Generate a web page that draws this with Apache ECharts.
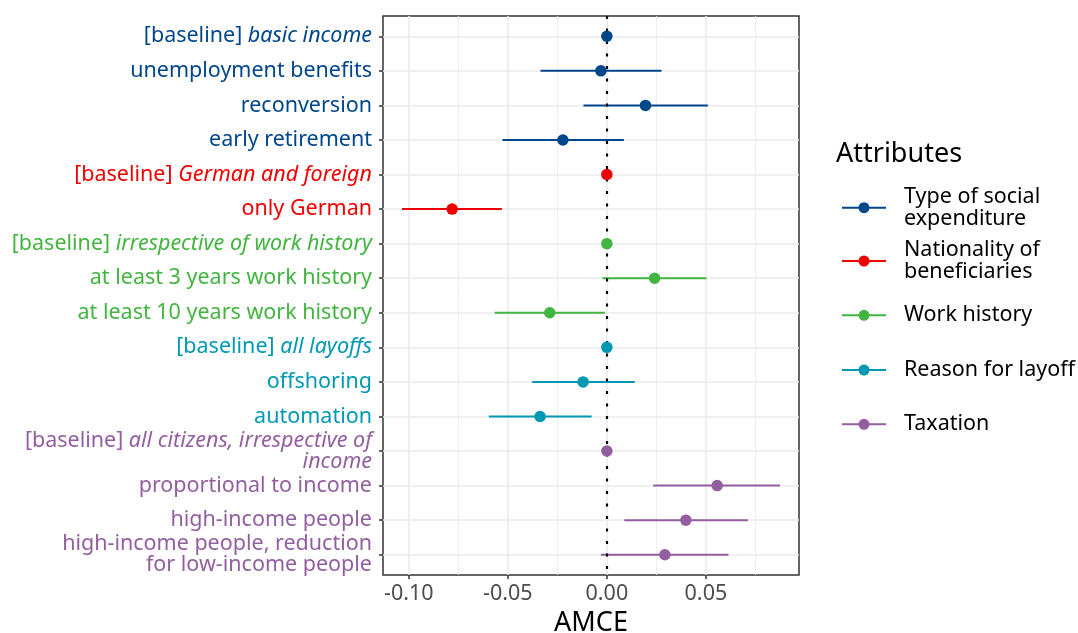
<!DOCTYPE html>
<html>
<head>
<meta charset="utf-8">
<script src="https://cdn.jsdelivr.net/npm/echarts@6/dist/echarts.min.js"></script>
<style>
html,body{margin:0;padding:0;background:#fff;}
#chart{width:1078px;height:633px;}
</style>
</head>
<body>
<div id="chart"></div>
<script>
// ---------- data ----------
const categories = [
  "[baseline] basic income",
  "unemployment benefits",
  "reconversion",
  "early retirement",
  "[baseline] German and foreign",
  "only German",
  "[baseline] irrespective of work history",
  "at least 3 years work history",
  "at least 10 years work history",
  "[baseline] all layoffs",
  "offshoring",
  "automation",
  "[baseline] all citizens, irrespective of\nincome",
  "proportional to income",
  "high-income people",
  "high-income people, reduction\nfor low-income people"
];
const estimates = [0, -0.003, 0.0195, -0.0222, 0, -0.0781, 0, 0.0241, -0.0288, 0, -0.0120, -0.0337, 0, 0.0557, 0.0399, 0.0293];
const lower     = [null, -0.0335, -0.0118, -0.0527, null, -0.1034, null, -0.0022, -0.0566, null, -0.0377, -0.0596, null, 0.0234, 0.0088, -0.0030];
const upper     = [null, 0.0276, 0.0510, 0.0086, null, -0.0530, null, 0.0503, -0.0010, null, 0.0141, -0.0077, null, 0.0874, 0.0712, 0.0614];
const groupOf   = [0, 0, 0, 0, 1, 1, 2, 2, 2, 3, 3, 3, 4, 4, 4, 4];
const groupNames = ["Type of social\nexpenditure", "Nationality of\nbeneficiaries", "Work history", "Reason for layoff", "Taxation"];
const xMajorTicks = [-0.10, -0.05, 0.00, 0.05];
const xMinorTicks = [-0.075, -0.025, 0.025, 0.075];
const referenceLine = 0;

// ---------- style ----------
const groupColors = ["#00468B", "#ED0000", "#42B540", "#0099B4", "#925E9F"];
const FONT = "Noto Sans";
const FS = 21.5;
const GRID = { left: 383, top: 16, width: 416, height: 559 };
const X_MIN = -0.113, X_MAX = 0.097;
const Y_MIN = -0.587, Y_MAX = 15.587;
const legendCenters = [207.7, 261, 315.3, 370, 424.3];

const rich = {};
groupColors.forEach((c, g) => {
  rich['n' + g] = { color: c, fontSize: FS, fontFamily: FONT, lineHeight: 21 };
  rich['i' + g] = { color: c, fontSize: FS, fontFamily: FONT, fontStyle: 'italic', lineHeight: 21 };
});

function labelFor(idx) {
  const text = categories[idx];
  const g = groupOf[idx];
  const lines = text.split('\n');
  const out = [];
  lines.forEach((line, li) => {
    if (li === 0 && line.startsWith('[baseline] ')) {
      out.push('{n' + g + '|[baseline] }{i' + g + '|' + line.slice(11) + '}');
    } else if (li > 0 && text.startsWith('[baseline] ')) {
      out.push('{i' + g + '|' + line + '}');
    } else {
      out.push('{n' + g + '|' + line + '}');
    }
  });
  return out.join('\n');
}

const legendIcon = 'path://M0,4.5 H44 V6.5 H0 Z M16.5,5.5 A5.5,5.5 0 1,1 27.5,5.5 A5.5,5.5 0 1,1 16.5,5.5 Z';

const series = [];
groupNames.forEach((name, g) => {
  const pts = [];
  const bars = [];
  categories.forEach((c, i) => {
    if (groupOf[i] !== g) return;
    pts.push([estimates[i], i]);
    if (lower[i] !== null) bars.push([lower[i], upper[i], i]);
  });
  series.push({
    name: name,
    type: 'custom',
    xAxisIndex: 0, yAxisIndex: 0,
    z: 2,
    silent: true,
    encode: { x: [0, 1], y: 2 },
    data: bars,
    renderItem: function (params, api) {
      const y = api.value(2);
      const p1 = api.coord([api.value(0), y]);
      const p2 = api.coord([api.value(1), y]);
      return {
        type: 'line',
        shape: { x1: p1[0], y1: p1[1], x2: p2[0], y2: p2[1] },
        style: { stroke: groupColors[g], lineWidth: 2 }
      };
    }
  });
  series.push({
    name: name,
    type: 'scatter',
    xAxisIndex: 0, yAxisIndex: 0,
    z: 4,
    symbol: 'circle',
    symbolSize: 11.5,
    itemStyle: { color: groupColors[g], opacity: 1 },
    data: pts
  });
});
series.push({
  type: 'scatter',
  xAxisIndex: 0, yAxisIndex: 0,
  z: 3,
  data: [],
  markLine: {
    z: 3,
    silent: true,
    symbol: ['none', 'none'],
    label: { show: false },
    lineStyle: { color: '#000', type: [3, 9.5], width: 2.2 },
    data: [{ xAxis: referenceLine }]
  }
});

const legends = groupNames.map((name, g) => {
  const nLines = name.split('\n').length;
  return {
    orient: 'vertical',
    left: 842,
    top: legendCenters[g] - nLines * 11,
    padding: 0,
    itemWidth: 44,
    itemHeight: 11,
    selectedMode: false,
    data: [{ name: name, icon: legendIcon, itemStyle: { color: groupColors[g] } }],
    textStyle: { fontFamily: FONT, fontSize: FS, lineHeight: 22, color: '#000', padding: [0, 0, 0, 13] }
  };
});

const option = {
  animation: false,
  backgroundColor: '#fff',
  title: {
    text: 'Attributes',
    left: 836, top: 141, padding: 0,
    textStyle: { fontFamily: FONT, fontSize: 27, fontWeight: 'normal', color: '#000' }
  },
  legend: legends,
  grid: [{
    left: GRID.left, top: GRID.top, width: GRID.width, height: GRID.height,
    show: true, borderColor: '#333', borderWidth: 1.5, backgroundColor: 'transparent',
    containLabel: false, outerBoundsMode: 'none'
  }],
  xAxis: [{
    type: 'value', gridIndex: 0, min: X_MIN, max: X_MAX,
    name: 'AMCE', nameLocation: 'middle', nameGap: 35,
    nameTextStyle: { fontFamily: FONT, fontSize: 27, color: '#000' },
    axisLine: { show: false, onZero: false },
    axisTick: { show: true, length: 4, customValues: xMajorTicks, lineStyle: { color: '#333', width: 1.5 } },
    axisLabel: { customValues: xMajorTicks, margin: 8, fontFamily: FONT, fontSize: FS, color: '#4D4D4D',
      formatter: v => v.toFixed(2) },
    splitLine: { show: true, lineStyle: { color: '#EBEBEB', width: 1.6 } }
  }, {
    type: 'value', gridIndex: 0, min: X_MIN, max: X_MAX,
    axisLine: { show: false, onZero: false },
    axisTick: { show: false, customValues: xMinorTicks },
    axisLabel: { show: false, customValues: xMinorTicks },
    splitLine: { show: true, lineStyle: { color: '#EBEBEB', width: 0.8 } }
  }],
  yAxis: [{
    type: 'value', gridIndex: 0, inverse: true, min: Y_MIN, max: Y_MAX,
    axisLine: { show: false, onZero: false },
    axisTick: { show: true, length: 4, customValues: categories.map((c, i) => i), lineStyle: { color: '#333', width: 1.5 } },
    axisLabel: { customValues: categories.map((c, i) => i), margin: 11, rich: rich,
      formatter: v => labelFor(Math.round(v)) },
    splitLine: { show: true, lineStyle: { color: '#EBEBEB', width: 1.6 } }
  }],
  series: series
};

const chart = echarts.init(document.getElementById('chart'), null, { renderer: 'canvas' });
chart.setOption(option);
</script>
</body>
</html>
